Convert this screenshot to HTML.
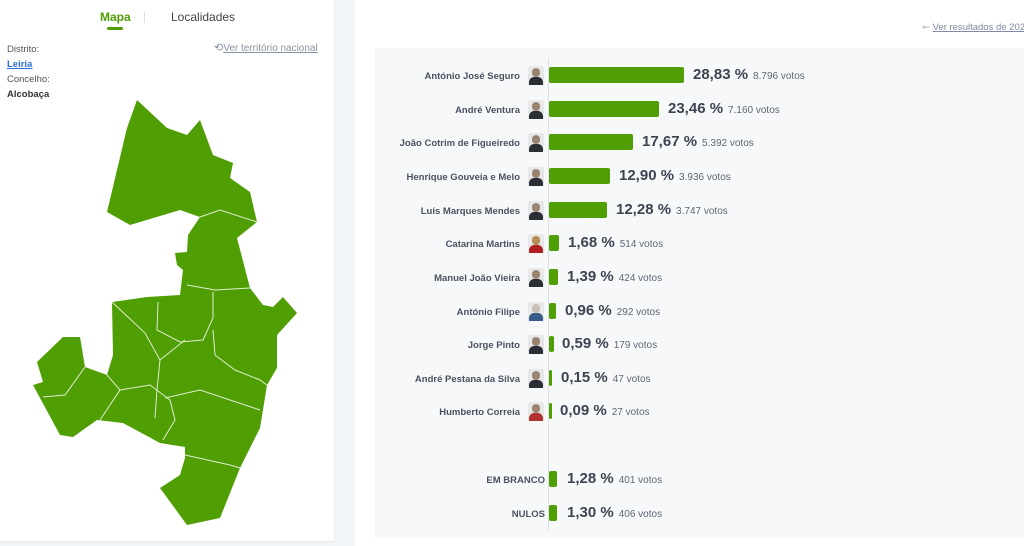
<!DOCTYPE html>
<html><head><meta charset="utf-8"><style>
*{margin:0;padding:0;box-sizing:border-box}
body{width:1024px;height:546px;overflow:hidden;background:#f2f5f8;font-family:"Liberation Sans",Arial,sans-serif;position:relative}
.abs{position:absolute}
#left{left:0;top:0;width:334px;height:541px;background:#fff;box-shadow:0 1px 2px rgba(0,0,0,.06)}
#right{left:355px;top:0;width:669px;height:546px;background:#fff}
#box{left:375px;top:48px;width:649px;height:490px;background:#f7f8fa}
.name{position:absolute;right:504px;width:200px;text-align:right;font-size:9.5px;font-weight:bold;color:#4b5160;white-space:nowrap}
.av{position:absolute;left:528px;width:16px;height:19px;border-radius:2px;overflow:hidden;background:#e8e8e8}
.av .h{position:absolute;left:4px;top:2px;width:8px;height:9px;border-radius:4px;background:#9a8470}
.av .b{position:absolute;left:1px;top:11px;width:14px;height:8px;border-radius:5px 5px 0 0;background:#2b2e35}
.bar{position:absolute;left:549px;height:16px;background:#4f9e04;border-radius:2px}
.pct{position:absolute;font-size:15px;font-weight:bold;color:#3d4350;white-space:nowrap}
.pct span{font-size:10px;font-weight:normal;color:#5f6673;margin-left:5px}
</style></head><body>
<div id="left" class="abs">
 <div class="abs" style="left:100px;top:10px;font-size:12px;font-weight:bold;color:#4f9e04">Mapa</div>
 <div class="abs" style="left:107px;top:27px;width:16px;height:3px;background:#4f9e04;border-radius:2px"></div>
 <div class="abs" style="left:144px;top:12px;width:1px;height:11px;background:#ddd"></div>
 <div class="abs" style="left:171px;top:10px;font-size:12px;color:#444">Localidades</div>
 <div class="abs" style="left:7px;top:42px;font-size:9.5px;color:#555;line-height:15px">Distrito:<br><span style="color:#2a6fd6;text-decoration:underline;font-weight:bold">Leiria</span><br>Concelho:<br><span style="color:#333;font-weight:bold">Alcobaça</span></div>
 <div class="abs" style="left:214px;top:41px;font-size:10px;color:#8892a3;white-space:nowrap"><span style="font-size:11px">⟲</span><span style="text-decoration:underline">Ver território nacional</span></div>
 <svg class="abs" style="left:0;top:0" width="334" height="541">
  <path fill="#4f9e04" d="M137,100 L127,128 L107,212 L130,225 L180,210 L200,217 L188,235 L187,252 L175,253 L177,265 L183,270 L180,295 L147,297 L112,302 L113,355 L107,375 L85,367 L80,337 L63,337 L37,362 L43,382 L33,385 L60,435 L73,437 L97,420 L123,423 L160,443 L185,447 L185,458 L180,475 L160,488 L187,525 L220,518 L240,468 L260,428 L267,385 L277,368 L277,335 L297,313 L283,297 L273,307 L263,305 L250,288 L237,238 L257,222 L250,192 L230,178 L233,163 L213,155 L200,120 L187,135 L167,128 Z"/>
  <g fill="none" stroke="#dfeecf" stroke-width="1">
   <path d="M200,217 L220,210 L257,222"/>
   <path d="M187,285 L215,290 L250,288"/>
   <path d="M112,302 L145,333 L160,360 L157,390 L155,418"/>
   <path d="M158,302 L157,330 L180,342 L203,340 L213,318 L213,292"/>
   <path d="M213,330 L215,355 L235,370 L260,380 L267,385"/>
   <path d="M160,360 L185,340"/>
   <path d="M85,367 L65,395 L43,397"/>
   <path d="M107,375 L120,390 L100,420"/>
   <path d="M120,390 L150,385 L170,400 L175,420 L163,440"/>
   <path d="M165,398 L200,390 L260,410"/>
   <path d="M185,455 L230,465 L240,468"/>
  </g>
 </svg>
</div>
<div id="right" class="abs"></div>
<div class="abs" style="left:922px;top:22px;font-size:9.5px;color:#7d8aa5;white-space:nowrap">⇽ <span style="text-decoration:underline">Ver resultados de 2021</span></div>
<div id="box" class="abs"></div>
<div class="abs" style="left:548px;top:58px;width:1px;height:472px;background:#dde1e6"></div>

<div class="name" style="top:71px">António José Seguro</div><div class="av" style="top:66px"><div class="h"></div><div class="b"></div></div><div class="bar" style="top:67px;width:135px"></div><div class="pct" style="left:693px;top:66px">28,83 %<span>8.796 votos</span></div>
<div class="name" style="top:105px">André Ventura</div><div class="av" style="top:100px"><div class="h"></div><div class="b"></div></div><div class="bar" style="top:101px;width:110px"></div><div class="pct" style="left:668px;top:100px">23,46 %<span>7.160 votos</span></div>
<div class="name" style="top:138px">João Cotrim de Figueiredo</div><div class="av" style="top:133px"><div class="h"></div><div class="b"></div></div><div class="bar" style="top:134px;width:84px"></div><div class="pct" style="left:642px;top:133px">17,67 %<span>5.392 votos</span></div>
<div class="name" style="top:172px">Henrique Gouveia e Melo</div><div class="av" style="top:167px"><div class="h"></div><div class="b"></div></div><div class="bar" style="top:168px;width:61px"></div><div class="pct" style="left:619px;top:167px">12,90 %<span>3.936 votos</span></div>
<div class="name" style="top:206px">Luís Marques Mendes</div><div class="av" style="top:201px"><div class="h"></div><div class="b"></div></div><div class="bar" style="top:202px;width:58px"></div><div class="pct" style="left:616px;top:201px">12,28 %<span>3.747 votos</span></div>
<div class="name" style="top:239px">Catarina Martins</div><div class="av" style="top:234px"><div class="h" style="background:#b88a50"></div><div class="b" style="background:#b02020"></div></div><div class="bar" style="top:235px;width:10px"></div><div class="pct" style="left:568px;top:234px">1,68 %<span>514 votos</span></div>
<div class="name" style="top:273px">Manuel João Vieira</div><div class="av" style="top:268px"><div class="h"></div><div class="b"></div></div><div class="bar" style="top:269px;width:9px"></div><div class="pct" style="left:567px;top:268px">1,39 %<span>424 votos</span></div>
<div class="name" style="top:307px">António Filipe</div><div class="av" style="top:302px"><div class="h" style="background:#c8c0b8"></div><div class="b" style="background:#3a5a8a"></div></div><div class="bar" style="top:303px;width:7px"></div><div class="pct" style="left:565px;top:302px">0,96 %<span>292 votos</span></div>
<div class="name" style="top:340px">Jorge Pinto</div><div class="av" style="top:335px"><div class="h"></div><div class="b"></div></div><div class="bar" style="top:336px;width:5px"></div><div class="pct" style="left:562px;top:335px">0,59 %<span>179 votos</span></div>
<div class="name" style="top:374px">André Pestana da Silva</div><div class="av" style="top:369px"><div class="h"></div><div class="b"></div></div><div class="bar" style="top:370px;width:3px"></div><div class="pct" style="left:561px;top:369px">0,15 %<span>47 votos</span></div>
<div class="name" style="top:407px">Humberto Correia</div><div class="av" style="top:402px"><div class="h"></div><div class="b" style="background:#b03030"></div></div><div class="bar" style="top:403px;width:3px"></div><div class="pct" style="left:560px;top:402px">0,09 %<span>27 votos</span></div>

<div class="name" style="top:475px;right:479px">EM BRANCO</div><div class="bar" style="top:471px;width:8px"></div><div class="pct" style="left:567px;top:470px">1,28 %<span>401 votos</span></div>
<div class="name" style="top:509px;right:479px">NULOS</div><div class="bar" style="top:505px;width:8px"></div><div class="pct" style="left:567px;top:504px">1,30 %<span>406 votos</span></div>
</body></html>
